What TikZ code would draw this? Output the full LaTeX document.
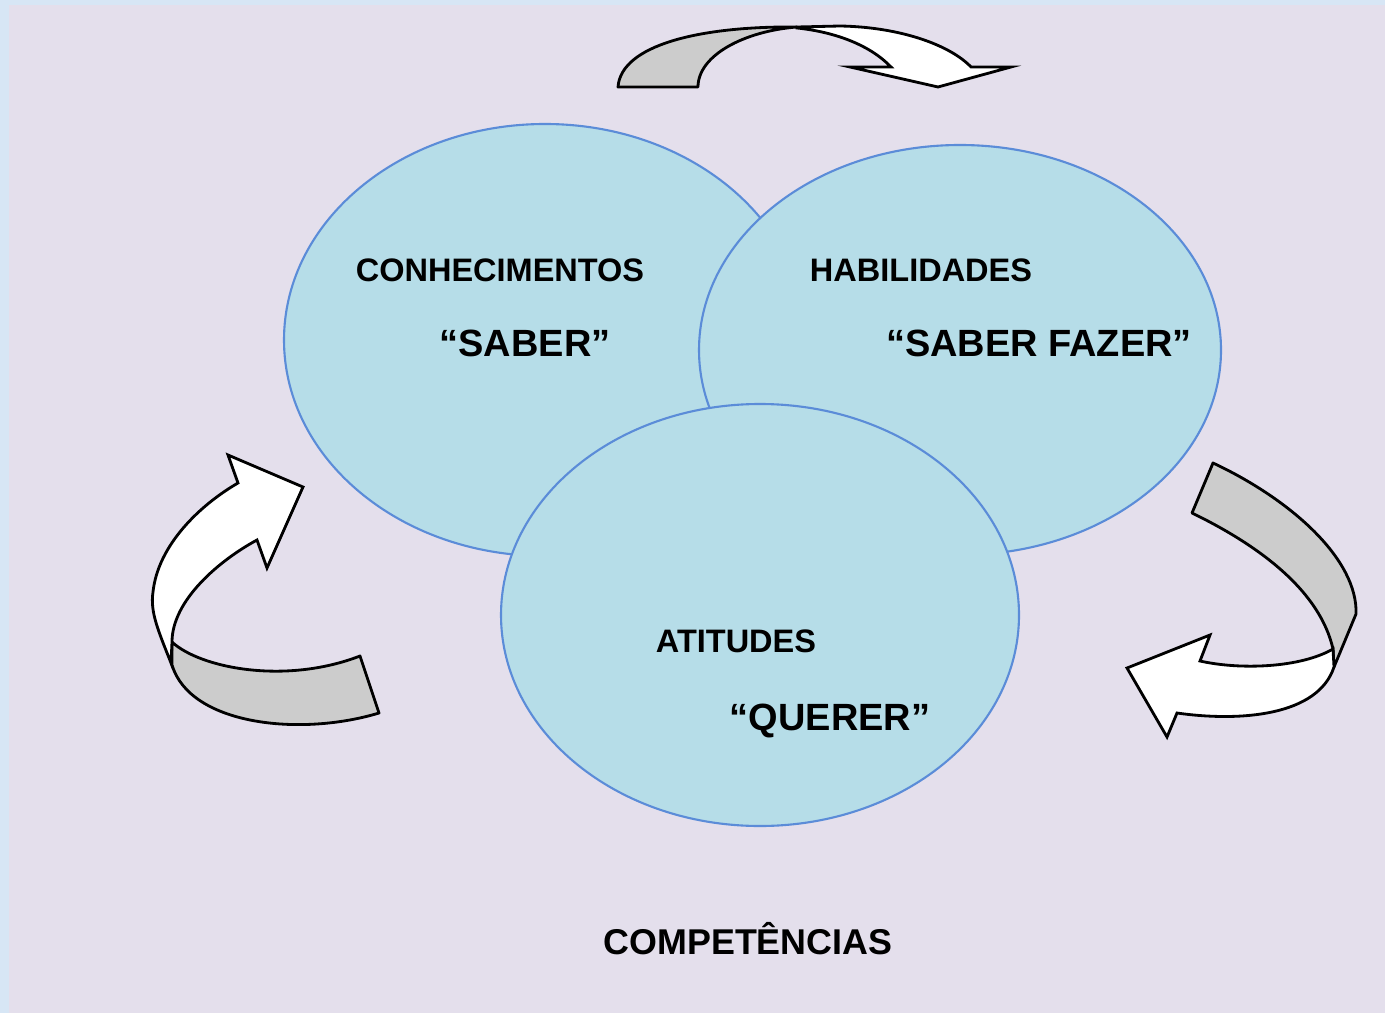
\documentclass[tikz,border=0pt]{standalone}
\usepackage{fontspec}
\setmainfont{Liberation Sans}
\definecolor{outerbg}{HTML}{D7E6F5}
\definecolor{innerbg}{HTML}{E4DFEC}
\definecolor{ellfill}{HTML}{B6DDE8}
\definecolor{elldraw}{HTML}{5B8CD8}
\definecolor{bandgray}{HTML}{CCCCCC}
\tikzset{
  ell/.style={fill=ellfill, draw=elldraw, line width=1.2pt},
  band/.style={fill=bandgray, draw=black, line width=1.6pt, line join=round},
  head/.style={fill=white, draw=black, line width=1.6pt, line join=miter},
  lbl/.style={inner sep=0pt, anchor=center, font=\bfseries\fontsize{18.5}{20}\selectfont},
  quo/.style={inner sep=0pt, anchor=center, font=\bfseries\fontsize{21.6}{24}\selectfont},
}
\begin{document}
\begin{tikzpicture}[x=0.02cm, y=-0.02cm]
\useasboundingbox (0,0) rectangle (1385,1013);
\fill[outerbg] (0,0) rectangle (1385,1013);
\fill[innerbg] (9,5) rectangle (1385,1013);

% ellipses
\draw[ell] (545,340) ellipse [x radius=261, y radius=216];
\draw[ell] (960,350) ellipse [x radius=261, y radius=205];
\draw[ell] (760,615) ellipse [x radius=259, y radius=211];

% labels
\node[lbl] (con) at (500,270) {CONHECIMENTOS};
\node[quo] (sab) at (525,343) {“SABER”};
\node[lbl] (hab) at (921,270) {HABILIDADES};
\node[quo] (saf) at (1039,343) {“SABER FAZER”};
\node[lbl] (ati) at (736,641) {ATITUDES};
\node[quo] (que) at (830,721) {“QUERER”};
\node[inner sep=0pt, font=\bfseries\fontsize{20.4}{22}\selectfont] (comp) at (748,939) {COMPETÊNCIAS};

% top curved arrow
\draw[band] (618,87) .. controls (621,45) and (700,26) .. (797,27)
  .. controls (745,31) and (698,55) .. (698,87) -- cycle;
\draw[head] (797,27) -- (840,26) .. controls (900,27) and (950,45) .. (971,67)
  -- (1011,67) -- (938,87) -- (850,67) -- (891,67)
  .. controls (870,45) and (835,32) .. (797,28) -- cycle;

% left curved arrow
\draw[band] (172,642) .. controls (200,668) and (285,685) .. (360,656)
  -- (379,713) .. controls (300,737) and (190,725) .. (172,665) -- cycle;
\draw[head] (171,663) .. controls (158,630) and (150,612) .. (153,592)
  .. controls (158,545) and (200,505) .. (238,483)
  -- (228,455) -- (303,487) -- (267,568) -- (257,540)
  .. controls (220,560) and (172,600) .. (172,642) -- cycle;

% right curved arrow
\draw[band] (1213,463) .. controls (1292,500) and (1358,560) .. (1356,614)
  -- (1334,667) -- (1333,649)
  .. controls (1320,592) and (1262,547) .. (1192,513) -- cycle;
\draw[head] (1333,649) .. controls (1300,668) and (1240,670) .. (1200,661)
  -- (1210,635) -- (1127,668) -- (1167,737) -- (1177,713)
  .. controls (1240,722) and (1318,716) .. (1334,667) -- cycle;
\end{tikzpicture}
\end{document}
